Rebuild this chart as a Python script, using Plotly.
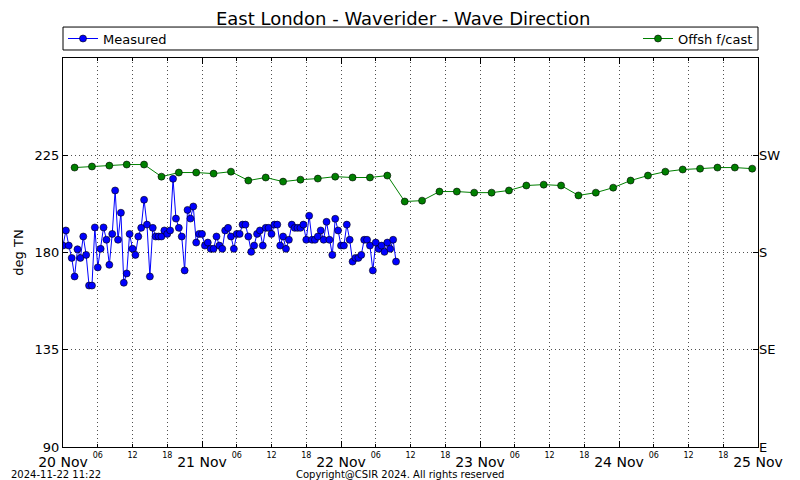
import pandas as pd
import plotly.graph_objects as go

# Measured wave direction, half-hourly from 20 Nov 00:00
measured_start = '2024-11-20 00:00'
measured_deg = [
    183.2, 190.2, 183.2, 177.5, 168.9, 181.5, 177.5, 187.4, 178.9, 164.7,
    164.7, 191.6, 173.1, 181.7, 191.6, 185.9, 174.3, 188.6, 208.7, 185.9,
    198.4, 166.0, 170.3, 188.6, 181.7, 178.9, 187.4, 191.4, 204.4, 192.9,
    168.9, 191.4, 187.4, 187.4, 187.4, 190.2, 188.6, 190.2, 214.1, 195.7,
    191.4, 187.4, 171.7, 199.7, 195.7, 201.3, 184.6, 188.6, 188.6, 183.2,
    184.6, 181.7, 181.7, 187.4, 183.2, 181.7, 190.2, 191.4, 187.4, 181.7,
    188.6, 188.6, 192.9, 192.9, 187.4, 180.3, 183.2, 188.6, 190.2, 183.2,
    191.4, 191.4, 188.6, 192.9, 192.9, 183.2, 187.4, 181.7, 185.9, 192.9,
    191.4, 191.4, 191.4, 192.9, 185.9, 197.0, 185.9, 185.9, 187.4, 190.2,
    185.9, 194.2, 185.9, 178.9, 195.6, 190.2, 183.2, 183.2, 192.9, 185.9,
    175.8, 177.5, 177.5, 178.9, 185.9, 185.9, 183.2, 171.7, 184.6, 181.7,
    183.2, 180.3, 184.6, 181.7, 185.9, 175.8,
]

# Offshore forecast, 3-hourly from 20 Nov 02:00
forecast_start = '2024-11-20 02:00'
forecast_deg = [
    219.3, 219.8, 220.2, 220.7, 220.7, 215.1, 217.0, 217.0, 216.5, 217.4,
    213.3, 214.7, 212.8, 213.7, 214.2, 215.1, 214.7, 214.7, 215.6, 203.6,
    204.0, 208.2, 208.2, 207.7, 207.7, 208.7, 211.0, 211.4, 211.0, 206.4,
    207.7, 210.0, 213.3, 215.6, 217.4, 218.4, 218.8, 219.3, 219.3, 218.8,
]

day_ticks = ['2024-11-20', '2024-11-21', '2024-11-22', '2024-11-23', '2024-11-24', '2024-11-25']
day_labels = ['20 Nov', '21 Nov', '22 Nov', '23 Nov', '24 Nov', '25 Nov']
hour_labels = ['06', '12', '18']
deg_ticks = [90, 135, 180, 225]
compass_labels = ['E', 'SE', 'S', 'SW']

t_meas = pd.date_range(measured_start, periods=len(measured_deg), freq='30min')
t_fc = pd.date_range(forecast_start, periods=len(forecast_deg), freq='3h')

minor_vals, minor_text = [], []
for d in day_ticks[:-1]:
    for h in hour_labels:
        minor_vals.append(pd.Timestamp(d) + pd.Timedelta(hours=int(h)))
        minor_text.append(h)

font = 'DejaVu Sans, sans-serif'
xrange = [day_ticks[0], day_ticks[-1]]
grid = dict(showgrid=True, gridcolor='rgb(80,80,80)', griddash='1px,3px', gridwidth=1)

fig = go.Figure()
fig.add_trace(go.Scatter(
    x=t_meas, y=measured_deg, name='Measured', mode='lines+markers',
    line=dict(color='#0000ff', width=1),
    marker=dict(color='#0000ff', size=7, line=dict(color='black', width=0.6)),
    legend='legend'))
fig.add_trace(go.Scatter(
    x=t_fc, y=forecast_deg, name='Offsh f/cast', mode='lines+markers',
    line=dict(color='#008000', width=1),
    marker=dict(color='#008000', size=7, line=dict(color='black', width=0.6)),
    legend='legend2'))
# invisible trace to bring up the minor-hour axis and right compass axis
fig.add_trace(go.Scatter(x=[minor_vals[0]], y=[180], xaxis='x2', yaxis='y2',
                         mode='markers', marker=dict(opacity=0), showlegend=False,
                         hoverinfo='skip'))

fig.update_layout(
    width=800, height=480,
    margin=dict(l=63, r=42, t=58, b=33),
    paper_bgcolor='white', plot_bgcolor='white',
    font=dict(family=font, color='black', size=13),
    title=dict(text='East London - Waverider - Wave Direction', x=0.504, xanchor='center',
               y=0.962, yanchor='middle', font=dict(size=18)),
    xaxis=dict(type='date', range=xrange, tickvals=day_ticks, ticktext=day_labels,
               ticks='inside', ticklen=6, tickcolor='black', showline=True,
               linecolor='black', linewidth=1, mirror='ticks', zeroline=False,
               tickfont=dict(size=14), ticklabelstandoff=2, automargin=False, **grid),
    xaxis2=dict(type='date', range=xrange, overlaying='x', anchor='y', side='bottom',
                tickvals=minor_vals, ticktext=minor_text, ticks='inside', ticklen=3,
                tickcolor='black', mirror='ticks', showline=False, automargin=False,
                tickfont=dict(size=8), ticklabelstandoff=2, **grid),
    yaxis=dict(range=[90, 270], tickvals=deg_ticks, ticks='inside', ticklen=5,
               tickcolor='black', showline=True, linecolor='black', linewidth=1,
               mirror=True, zeroline=False, title=dict(text='deg TN', font=dict(size=13), standoff=8),
               tickfont=dict(size=13), automargin=False, **grid),
    yaxis2=dict(range=[90, 270], overlaying='y', side='right', anchor='x',
                tickvals=deg_ticks, ticktext=compass_labels, ticks='inside', ticklen=5,
                tickcolor='black', showgrid=False, zeroline=False, showline=False,
                tickfont=dict(size=13), automargin=False),
    legend=dict(x=0.0, xanchor='left', y=1.05, yanchor='middle', orientation='h',
                bgcolor='rgba(0,0,0,0)', font=dict(size=13)),
    legend2=dict(x=1.0, xanchor='right', y=1.05, yanchor='middle', orientation='h',
                 bgcolor='rgba(0,0,0,0)', font=dict(size=13)),
    shapes=[dict(type='rect', xref='paper', yref='paper', x0=0, x1=1, y0=1.0206, y1=1.0796,
                 line=dict(color='black', width=1), fillcolor='rgba(0,0,0,0)')],
    annotations=[
        dict(text='2024-11-22 11:22', xref='paper', yref='paper', x=-0.077, y=-0.071,
             xanchor='left', yanchor='middle', showarrow=False, font=dict(size=10)),
        dict(text='Copyright@CSIR 2024. All rights reserved', xref='paper', yref='paper',
             x=0.485, y=-0.071, xanchor='center', yanchor='middle', showarrow=False,
             font=dict(size=10)),
    ],
)

# drop the browser's default body margin so the figure sits at the page corner
fig.write_html('out.html', config={'displayModeBar': False},
               post_script="document.body.style.margin='0';")
